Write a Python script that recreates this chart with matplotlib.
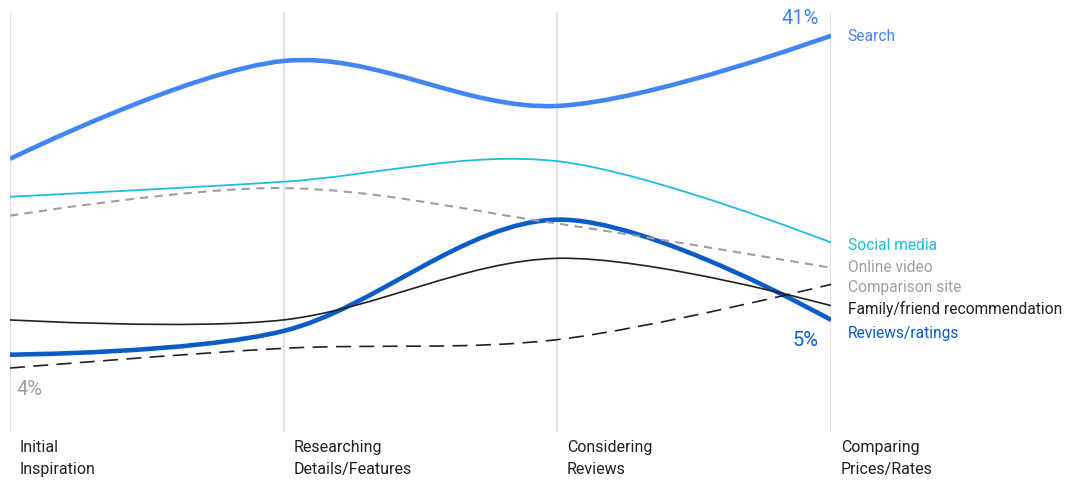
import matplotlib.pyplot as plt
import numpy as np
from matplotlib.path import Path
from matplotlib.patches import PathPatch

plt.rcParams['font.family'] = ['Roboto', 'DejaVu Sans']

stages = ['Initial\nInspiration', 'Researching\nDetails/Features',
          'Considering\nReviews', 'Comparing\nPrices/Rates']

# share of shoppers using each source (%)
search = [25.4, 37.8, 32.1, 41.0]
social = [20.6, 22.5, 25.1, 14.8]
video = [18.2, 21.7, 17.2, 11.6]
comparison = [-1.1, 1.4, 2.5, 9.5]
family = [5.0, 5.0, 12.8, 6.8]
reviews = [0.6, 3.6, 17.7, 5.0]

names = ['Search', 'Social media', 'Online video', 'Comparison site',
         'Family/friend recommendation', 'Reviews/ratings']
label_y = [41.0, 14.6, 11.7, 9.2, 6.5, 3.4]

BLUE = '#4285F4'
CYAN = '#1FBCE0'
GREY = '#9AA0A6'
DARK = '#202124'
DBLUE = '#0B5CC9'


def cardinal_path(xs, ys):
    # d3 style cardinal (catmull-rom) spline as cubic bezier segments
    p = np.column_stack([xs, ys]).astype(float)
    n = len(p)
    verts = [p[0]]
    codes = [Path.MOVETO]
    for i in range(n - 1):
        prev = p[i - 1] if i > 0 else p[i + 1]
        nxt = p[i + 2] if i + 2 < n else p[i]
        c1 = p[i] + (p[i + 1] - prev) / 6
        c2 = p[i + 1] - (nxt - p[i]) / 6
        verts += [c1, c2, p[i + 1]]
        codes += [Path.CURVE4] * 3
    return Path(verts, codes)


fig = plt.figure(figsize=(10.84, 4.81), dpi=100)
ax = fig.add_axes([10 / 1084, 48 / 481, 821 / 1084, 420 / 481])
ax.set_xlim(0, 3)
ax.set_ylim(-9.2, 44.0)
ax.axis('off')

x = np.arange(len(stages))
for xi in x:
    ax.axvline(xi, color='#E3E3E3', lw=1.6, zorder=0)

series = [
    (reviews, DBLUE, 3.3, '-'),
    (family, DARK, 1.2, '-'),
    (comparison, DARK, 1.2, (0, (9, 5))),
    (video, GREY, 1.5, (0, (4, 3))),
    (social, CYAN, 1.3, '-'),
    (search, BLUE, 3.3, '-'),
]
for vals, col, lw, ls in series:
    patch = PathPatch(cardinal_path(x, vals), fill=False, edgecolor=col,
                      lw=lw, linestyle=ls, capstyle='butt')
    ax.add_patch(patch)

label_colors = [BLUE, CYAN, GREY, GREY, DARK, DBLUE]
for name, ly, col in zip(names, label_y, label_colors):
    ax.annotate(name, xy=(3, ly), xytext=(12, 0), textcoords='offset points',
                fontsize=11.2, color=col, va='center', ha='left',
                annotation_clip=False)

ax.annotate(f'{search[-1]:.0f}%', xy=(3, search[-1]), xytext=(-9, 13),
            textcoords='offset points', fontsize=14.5, color=BLUE,
            ha='right', va='center', annotation_clip=False)
ax.annotate(f'{reviews[-1]:.0f}%', xy=(3, reviews[-1]), xytext=(-9, -14),
            textcoords='offset points', fontsize=14.5, color=DBLUE,
            ha='right', va='center', annotation_clip=False)
ax.annotate('4%', xy=(0, comparison[0]), xytext=(5, -15),
            textcoords='offset points', fontsize=14.5, color=GREY,
            ha='left', va='center', annotation_clip=False)

for xi, s in zip(x, stages):
    ax.annotate(s, xy=(xi, 0), xycoords=('data', 'axes fraction'),
                xytext=(7, -5), textcoords='offset points', fontsize=11.5,
                color=DARK, ha='left', va='top', linespacing=1.6,
                annotation_clip=False)

fig.savefig('out.png', dpi=100)
